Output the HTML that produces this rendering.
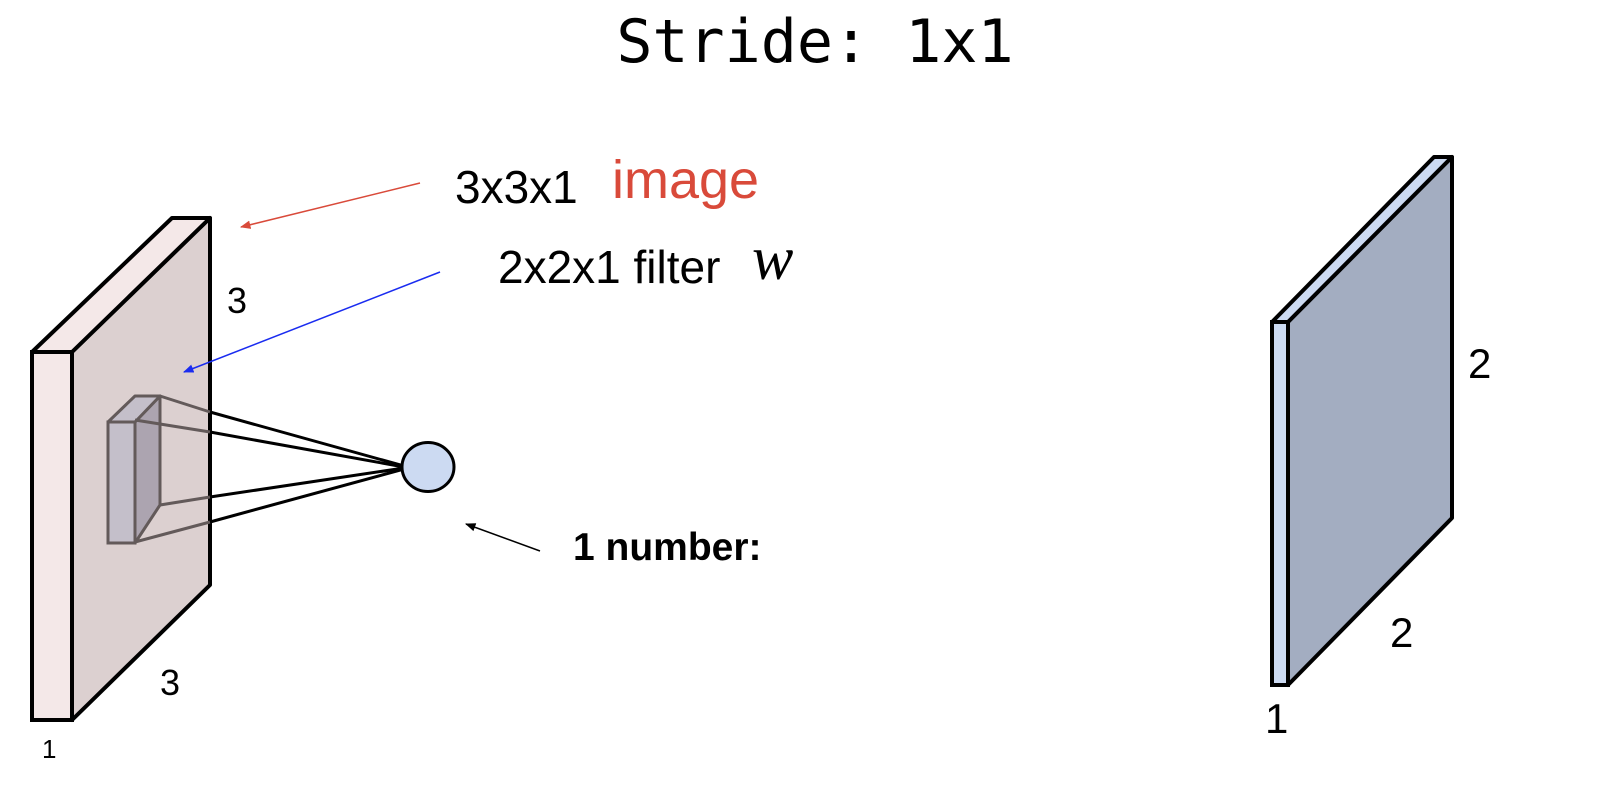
<!DOCTYPE html>
<html><head><meta charset="utf-8"><style>
html,body{margin:0;padding:0;background:#fff;}
svg{display:block;}
</style></head><body>
<svg width="1600" height="795" viewBox="0 0 1600 795" xmlns="http://www.w3.org/2000/svg">
<defs>
<marker id="ar" viewBox="0 0 10 10" refX="9" refY="5" markerWidth="7" markerHeight="7" orient="auto"><path d="M0,1 L10,5 L0,9 z" fill="#d94a3a"/></marker>
<marker id="ab" viewBox="0 0 10 10" refX="9" refY="5" markerWidth="7" markerHeight="7" orient="auto"><path d="M0,1 L10,5 L0,9 z" fill="#1a2cf0"/></marker>
<marker id="ak" viewBox="0 0 10 10" refX="9" refY="5" markerWidth="7" markerHeight="7" orient="auto"><path d="M0,1 L10,5 L0,9 z" fill="#000"/></marker>
</defs>
<text x="815" y="62" text-anchor="middle" font-family="DejaVu Sans Mono, Liberation Mono, monospace" font-size="60">Stride: 1x1</text>

<!-- left slab -->
<polygon points="72,352 210,218 210,585 72,720" fill="#dcd0d0" stroke="#000" stroke-width="4" stroke-linejoin="round"/>
<polygon points="32,352 172,218 210,218 72,352" fill="#f4e8e8" stroke="#000" stroke-width="4" stroke-linejoin="round"/>
<rect x="32" y="352" width="40" height="368" fill="#f4e8e8" stroke="#000" stroke-width="4"/>

<!-- filter -->
<polygon points="135,422 160,396 160,505 135,543" fill="#aca4b0" stroke="#635a5a" stroke-width="3" stroke-linejoin="round"/>
<polygon points="108,422 135,396 160,396 135,422" fill="#c4bfca" stroke="#635a5a" stroke-width="3" stroke-linejoin="round"/>
<rect x="108" y="422" width="27" height="121" fill="#c4bfca" stroke="#635a5a" stroke-width="3"/>
<g stroke-width="3">
<line x1="160" y1="396" x2="210" y2="412" stroke="#635a5a"/><line x1="210" y1="412" x2="404" y2="466" stroke="#000"/>
<line x1="135" y1="420" x2="210" y2="432" stroke="#635a5a"/><line x1="210" y1="432" x2="404" y2="467" stroke="#000"/>
<line x1="160" y1="505" x2="210" y2="497" stroke="#635a5a"/><line x1="210" y1="497" x2="404" y2="468" stroke="#000"/>
<line x1="135" y1="542" x2="210" y2="522" stroke="#635a5a"/><line x1="210" y1="522" x2="404" y2="469" stroke="#000"/>
</g>
<ellipse cx="428" cy="467" rx="26" ry="24.5" fill="#ccdaf2" stroke="#000" stroke-width="3"/>

<!-- arrows -->
<line x1="420" y1="183" x2="241" y2="227" stroke="#d94a3a" stroke-width="1.5" marker-end="url(#ar)"/>
<line x1="440" y1="272" x2="184" y2="372" stroke="#1a2cf0" stroke-width="1.5" marker-end="url(#ab)"/>
<line x1="540" y1="551" x2="466" y2="524" stroke="#000" stroke-width="1.5" marker-end="url(#ak)"/>

<g font-family="Liberation Sans, Arial, sans-serif" fill="#000">
<text x="455" y="203" font-size="46">3x3x1</text>
<text x="612" y="198" font-size="54" fill="#d94a3a">image</text>
<text x="498" y="283" font-size="46">2x2x1 filter</text>
<text x="752" y="279" font-size="62" font-family="Liberation Serif, serif" font-style="italic">w</text>
<text x="227" y="313" font-size="36">3</text>
<text x="160" y="695" font-size="36">3</text>
<text x="42" y="758" font-size="26">1</text>
<text x="573" y="560" font-size="39" font-weight="bold">1 number:</text>
<text x="1468" y="378" font-size="42">2</text>
<text x="1390" y="647" font-size="42">2</text>
<text x="1265" y="733" font-size="42">1</text>
</g>

<!-- right slab -->
<polygon points="1288,322 1452,157 1452,518 1288,685" fill="#a3adc1" stroke="#000" stroke-width="4" stroke-linejoin="round"/>
<polygon points="1272,322 1434,157 1452,157 1288,322" fill="#ccdaf2" stroke="#000" stroke-width="4" stroke-linejoin="round"/>
<rect x="1272" y="322" width="16" height="363" fill="#ccdaf2" stroke="#000" stroke-width="4"/>
</svg>
</body></html>
